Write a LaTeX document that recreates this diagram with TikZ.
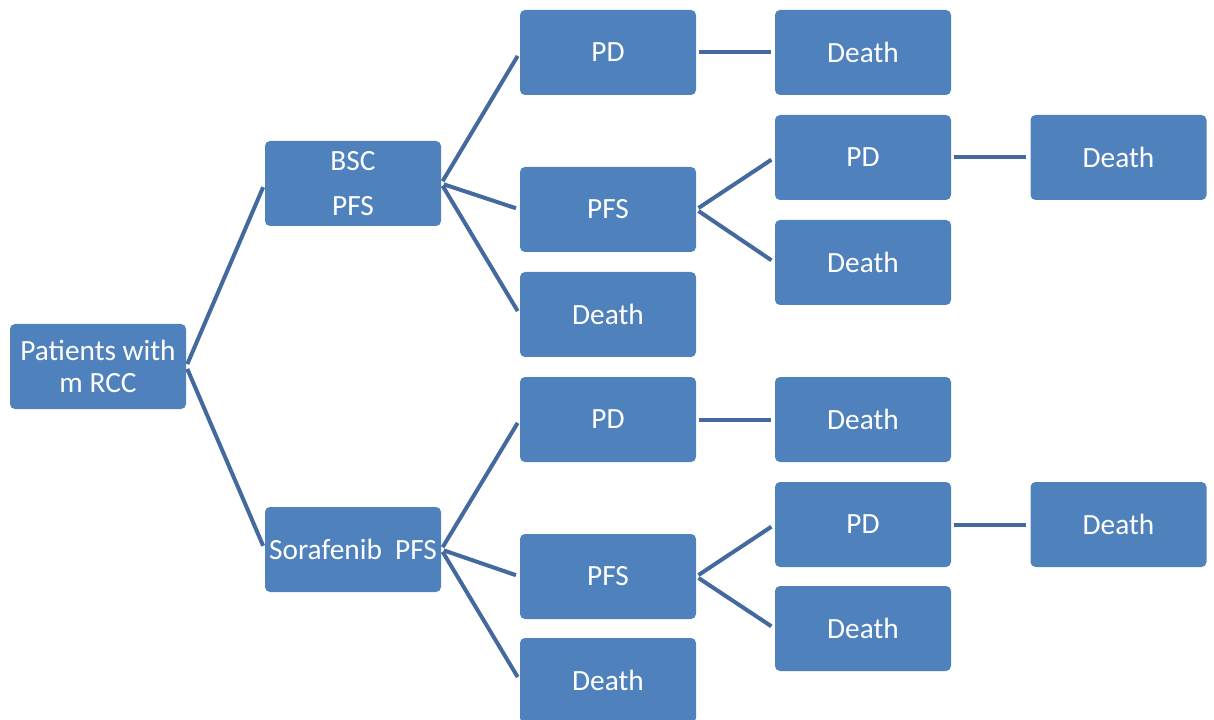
\documentclass[tikz,border=0pt]{standalone}
\usepackage{fontspec}
\setmainfont{Carlito}
\usetikzlibrary{calc}
\definecolor{boxblue}{HTML}{4F81BD}
\definecolor{linkblue}{HTML}{44699E}
\tikzset{
  stage/.style={fill=boxblue, draw=none, rounded corners=3.75pt,
    minimum width=132pt, minimum height=63.75pt, inner xsep=0pt, inner ysep=0pt,
    text=white, align=center, font=\fontsize{22}{24.5}\selectfont},
  link/.style={draw=linkblue, line width=3pt, shorten <=2pt, shorten >=3pt},
}
\begin{document}
\begin{tikzpicture}[x=0.75pt, y=-0.75pt]
\useasboundingbox (0,0) rectangle (1214,720);
\clip (0,0) rectangle (1214,720);
% first level
\node[stage] (root) at (98,366.5) {Patients with\\m RCC};
% treatment arms
\node[stage] (bsc) at (353,183.5) {BSC\\[9pt]PFS};
\node[stage] (sor) at (353,549.5) {Sorafenib\ \ PFS};
% BSC branch
\node[stage] (bpd) at (608,52.5) {PD};
\node[stage] (bpfs) at (608,209.5) {PFS};
\node[stage] (bdeath) at (608,314.5) {Death};
\node[stage] (bpddeath) at (863,52.5) {Death};
\node[stage] (bpfspd) at (863,157.5) {PD};
\node[stage] (bpfsdeath) at (863,262.5) {Death};
\node[stage] (bpfspddeath) at (1118.5,157.5) {Death};
% Sorafenib branch
\node[stage] (spd) at (608,419.5) {PD};
\node[stage] (spfs) at (608,576.5) {PFS};
\node[stage] (sdeath) at (608,680.5) {Death};
\node[stage] (spddeath) at (863,419.5) {Death};
\node[stage] (spfspd) at (863,524.5) {PD};
\node[stage] (spfsdeath) at (863,628.5) {Death};
\node[stage] (spfspddeath) at (1118.5,524.5) {Death};
% connectors
\draw[link] (root.east) -- (bsc.west);
\draw[link] (root.east) -- (sor.west);
\foreach \a/\b in {bsc/bpd, bsc/bpfs, bsc/bdeath, bpd/bpddeath, bpfs/bpfspd, bpfs/bpfsdeath, bpfspd/bpfspddeath,
                   sor/spd, sor/spfs, sor/sdeath, spd/spddeath, spfs/spfspd, spfs/spfsdeath, spfspd/spfspddeath}
  \draw[link] (\a.east) -- (\b.west);
\end{tikzpicture}
\end{document}
